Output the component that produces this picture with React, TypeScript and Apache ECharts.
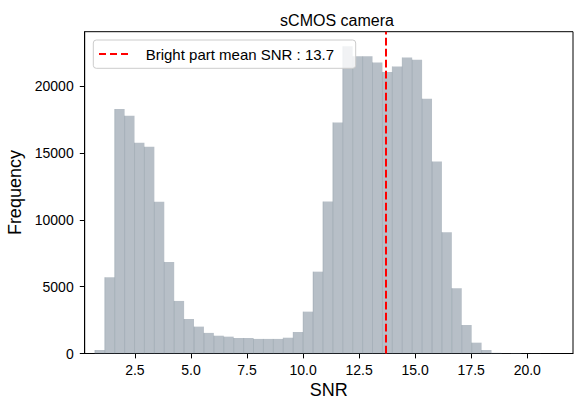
import React, { useEffect, useRef } from "react";
import * as echarts from "echarts";

// Histogram bins (uniform edges)
const BIN_MIN = 0.713;
const BIN_WIDTH = 0.4423;
const COUNTS = [
  260, 5700, 18280, 17780, 15760, 15460, 11340, 6850, 3930, 2580, 2010, 1540,
  1330, 1260, 1160, 1160, 1090, 1090, 1090, 1180, 1610, 3130, 6120, 11360,
  17280, 22970, 22220, 22220, 21770, 21050, 21470, 22140, 21970, 19050, 14360,
  9070, 4880, 2130, 810, 260, 50, 20, 30, 10, 15, 5, 3,
];
const MEAN_SNR = 13.7;
const X_MIN = 0.26;
const X_MAX = 22.04;
const Y_MAX = 24065;
const X_TICKS = [2.5, 5.0, 7.5, 10.0, 12.5, 15.0, 17.5, 20.0];
const Y_TICKS = [0, 5000, 10000, 15000, 20000];
const TITLE = "sCMOS camera";
const X_NAME = "SNR";
const Y_NAME = "Frequency";
const LEGEND_LABEL = `Bright part mean SNR : ${MEAN_SNR}`;

const FONT = "'Liberation Sans', Arial, Helvetica, sans-serif";

export default function App() {
  const ref = useRef<HTMLDivElement>(null);
  useEffect(() => {
    if (!ref.current) return;
    const chart = echarts.init(ref.current, null, { renderer: "svg" });
    const binData = COUNTS.map((c, i) => [
      BIN_MIN + i * BIN_WIDTH,
      BIN_MIN + (i + 1) * BIN_WIDTH,
      c,
    ]);
    chart.setOption({
      animation: false,
      backgroundColor: "#fff",
      textStyle: { fontFamily: FONT },
      title: {
        text: TITLE,
        left: 332,
        textAlign: "center",
        top: 7,
        textStyle: { fontFamily: FONT, fontSize: 16, fontWeight: "normal", color: "#000" },
      },
      grid: {
        left: 84.7,
        right: 2,
        top: 31.7,
        bottom: 51.5,
        outerBoundsMode: "none",
        containLabel: false,
        show: true,
        borderColor: "#000",
        borderWidth: 1,
        backgroundColor: "transparent",
      },
      xAxis: {
        type: "value",
        min: X_MIN,
        max: X_MAX,
        name: X_NAME,
        nameLocation: "middle",
        nameGap: 26,
        nameTextStyle: { fontFamily: FONT, fontSize: 18, color: "#000" },
        splitLine: { show: false },
        axisLine: { show: true, lineStyle: { color: "#000", width: 1 } },
        axisTick: { show: true, length: 4.9, lineStyle: { color: "#000" }, customValues: X_TICKS },
        axisLabel: {
          customValues: X_TICKS,
          fontFamily: FONT,
          fontSize: 14,
          color: "#000",
          margin: 9,
          formatter: (v: number) => v.toFixed(1),
        },
      },
      yAxis: {
        type: "value",
        min: 0,
        max: Y_MAX,
        name: Y_NAME,
        nameLocation: "middle",
        nameGap: 56,
        nameTextStyle: { fontFamily: FONT, fontSize: 18, color: "#000" },
        splitLine: { show: false },
        axisLine: { show: true, lineStyle: { color: "#000", width: 1 } },
        axisTick: { show: true, length: 4.9, lineStyle: { color: "#000" }, customValues: Y_TICKS },
        axisLabel: {
          customValues: Y_TICKS,
          fontFamily: FONT,
          fontSize: 14,
          color: "#000",
          margin: 11,
          formatter: (v: number) => String(v),
        },
      },
      series: [
        {
          type: "custom",
          z: 2,
          data: binData,
          encode: { x: [0, 1], y: 2 },
          renderItem: (params: any, api: any) => {
            const p0 = api.coord([api.value(0), 0]);
            const p1 = api.coord([api.value(1), api.value(2)]);
            return {
              type: "group",
              children: [
                {
                  type: "rect",
                  shape: { x: p0[0], y: p1[1], width: p1[0] - p0[0], height: p0[1] - p1[1] },
                  style: { fill: "rgba(112,128,144,0.5)" },
                },
                {
                  type: "line",
                  shape: { x1: p0[0], y1: p1[1], x2: p0[0], y2: p0[1] },
                  style: { stroke: "rgba(112,128,144,0.3)", lineWidth: 1 },
                },
              ],
            };
          },
        },
        {
          type: "line",
          data: [
            [MEAN_SNR, 0],
            [MEAN_SNR, Y_MAX],
          ],
          symbol: "none",
          z: 5,
          lineStyle: { color: "#ff0000", width: 2, type: [7.7, 3.3] },
        },
      ],
      graphic: [
        {
          type: "rect",
          z: 100,
          shape: { x: 93.3, y: 40, width: 262.4, height: 28.3, r: 3 },
          style: { fill: "rgba(255,255,255,0.8)", stroke: "#cccccc", lineWidth: 1 },
        },
        {
          type: "line",
          z: 101,
          shape: { x1: 99, y1: 54, x2: 129, y2: 54 },
          style: { stroke: "#ff0000", lineWidth: 2, lineDash: [7, 4] },
        },
        {
          type: "text",
          z: 101,
          x: 145.7,
          y: 54,
          style: {
            text: LEGEND_LABEL,
            fontFamily: FONT,
            fontSize: 15,
            fill: "#000",
            verticalAlign: "middle",
            align: "left",
          },
        },
      ],
    });
    return () => chart.dispose();
  }, []);
  return (
    <div
      ref={ref}
      style={{ position: "absolute", left: 0, top: 0, width: 575, height: 405 }}
    />
  );
}
